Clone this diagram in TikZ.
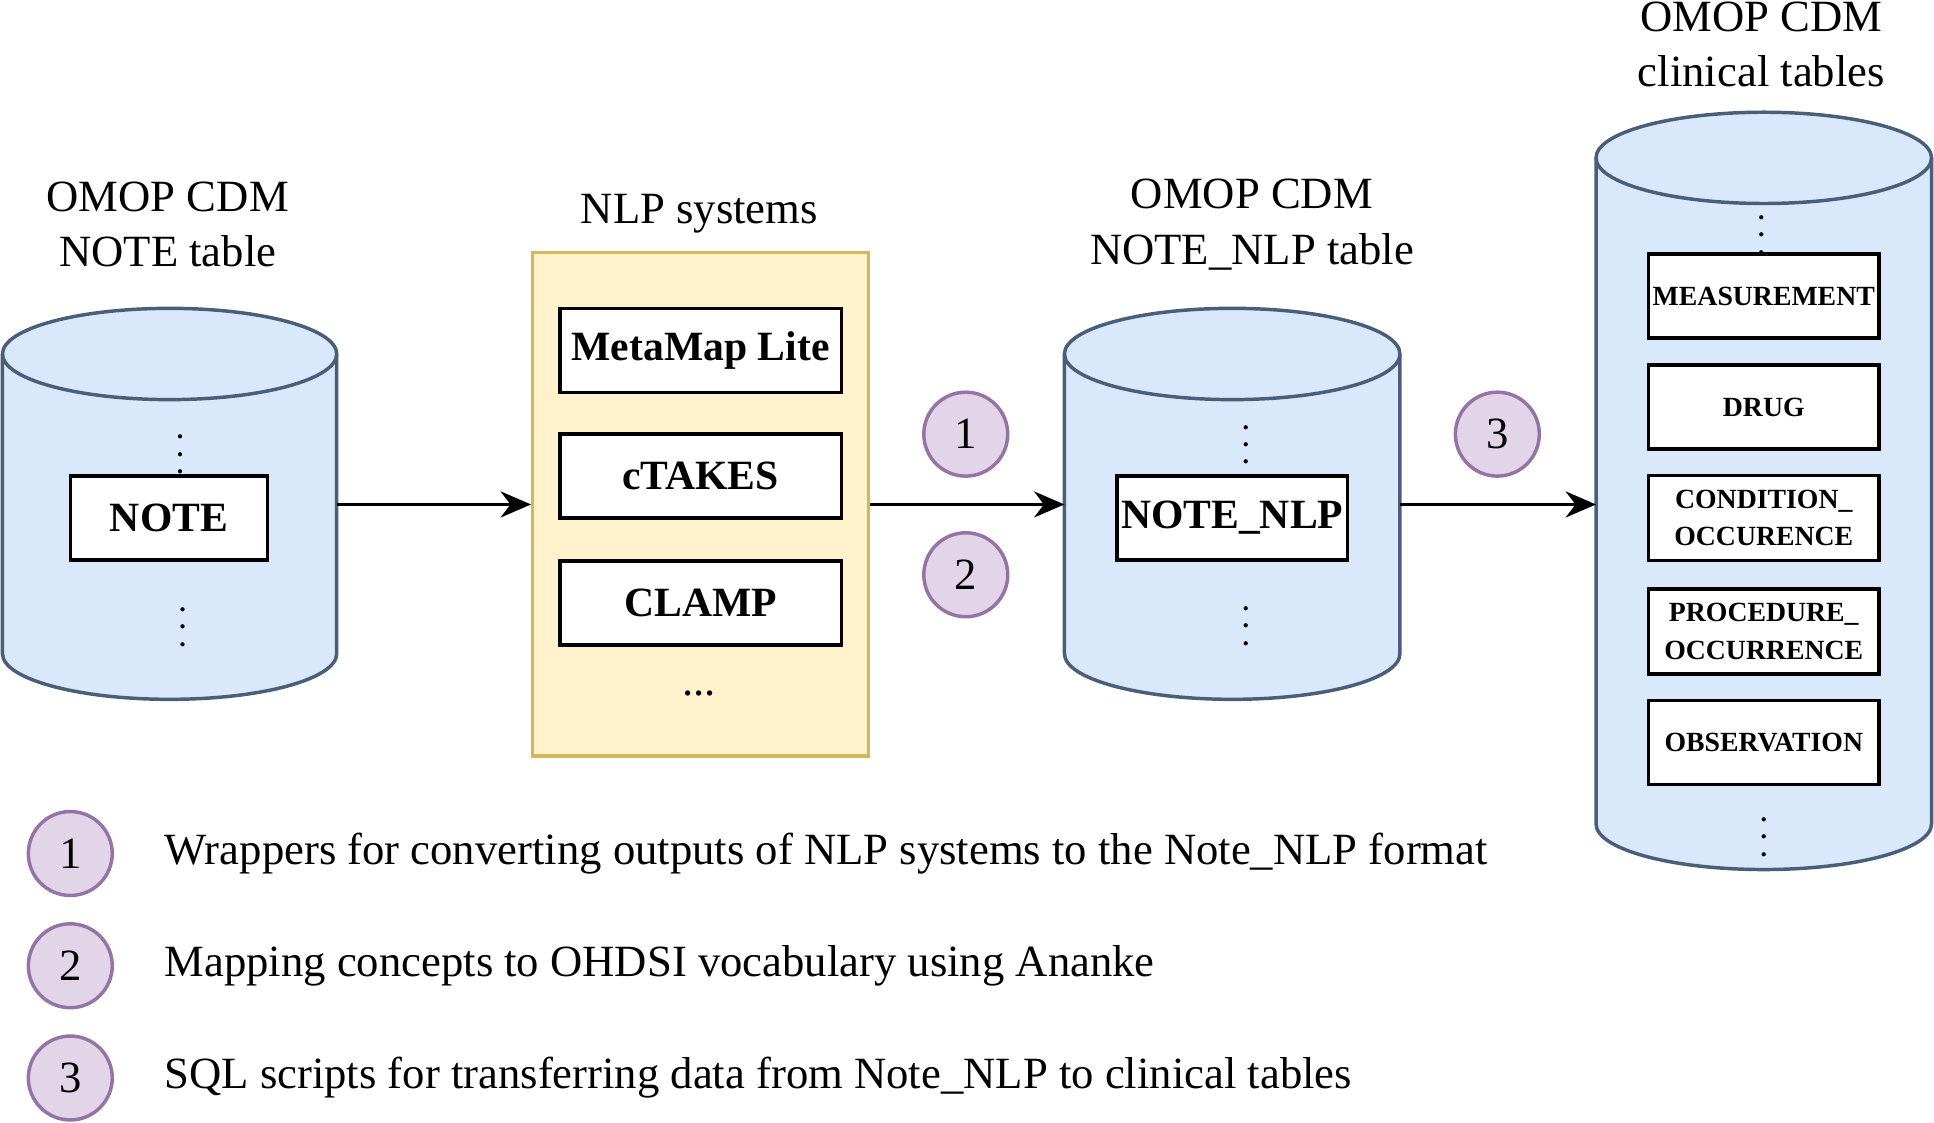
\documentclass[tikz,border=0pt]{standalone}
\usepackage{fontspec}
\setmainfont{Liberation Serif}
\usetikzlibrary{arrows.meta}
\definecolor{cylfill}{HTML}{DAE8FC}
\definecolor{cyldraw}{HTML}{4A5E7A}
\definecolor{nlpfill}{HTML}{FFF2CC}
\definecolor{nlpdraw}{HTML}{D6B656}
\definecolor{numfill}{HTML}{E1D5E7}
\definecolor{numdraw}{HTML}{9673A6}
\tikzset{
   box/.style={draw, thick, fill=white, minimum width=2.28cm, minimum height=0.68cm, inner xsep=1pt, font=\fontsize{9.6}{11}\selectfont\bfseries},
   tbox/.style={draw, thick, fill=white, text width=1.8cm, minimum height=0.68cm, inner xsep=1pt, align=center, font=\fontsize{6.4}{8.6}\selectfont\bfseries},
   num/.style={draw=numdraw, thick, fill=numfill, circle, minimum size=0.68cm, inner sep=0pt, font=\fontsize{10.3}{12}\selectfont},
   lbl/.style={align=center, font=\fontsize{10.3}{12.8}\selectfont},
   dots/.style={inner sep=0pt, font=\fontsize{6}{7}\selectfont\bfseries},
   flow/.style={thick, -{Stealth[length=7pt,width=6pt]}}
}
\newcommand{\cyl}[4]{% left x, right x, top y, bottom y
   \filldraw[fill=cylfill, draw=cyldraw, thick]
      (#1,#3) -- (#1,#4) arc[start angle=180, end angle=0, x radius={(#2-#1)/2}, y radius=37]
      -- (#2,#3) arc[start angle=0, end angle=-180, x radius={(#2-#1)/2}, y radius=37];
   \draw[draw=cyldraw, thick] (#1,#3) arc[start angle=180, end angle=0, x radius={(#2-#1)/2}, y radius=37];
}
\begin{document}
\begin{tikzpicture}[x=0.01cm, y=-0.01cm]
   \useasboundingbox (0,0) rectangle (1568,910);
   % cylinders
   \cyl{2}{273}{287}{530}
   \cyl{863}{1135}{287}{530}
   \cyl{1294}{1566}{128}{668}
   \coordinate (note) at (273,409);
   \coordinate (notenlpw) at (863,409);
   \coordinate (notenlpe) at (1135,409);
   \coordinate (clin) at (1294,409);
   % NLP systems
   \node[draw=nlpdraw, thick, fill=nlpfill, minimum width=2.72cm, minimum height=4.08cm] (nlp) at (568,409) {};
   \node[box] (metamap) at (568,284) {MetaMap Lite};
   \node[box] (ctakes) at (568,386) {cTAKES};
   \node[box] (clamp) at (568,489) {CLAMP};
   \node[lbl] (more) at (567,562) {...};
   % tables
   \node[box, minimum width=1.6cm] (tnote) at (137,420) {NOTE};
   \node[box, minimum width=1.84cm] (tnotenlp) at (999,420) {NOTE\_NLP};
   \node[tbox] (meas) at (1430,240) {MEASUREMENT};
   \node[tbox] (drug) at (1430,330) {DRUG};
   \node[tbox] (cond) at (1430,420) {CONDITION\_\\OCCURENCE};
   \node[tbox] (proc) at (1430,512) {PROCEDURE\_\\OCCURRENCE};
   \node[tbox] (obs) at (1430,602) {OBSERVATION};
   \foreach \n/\x/\y in {d1/146/358, d2/148/498, d3/1010/350, d4/1010/497, d5/1428/180, d6/1430/668} {
      \node[dots] (\n) at (\x,\y) {$\vdots$};
   }
   % labels
   \node[lbl] (lnote) at (136,182) {OMOP CDM\\NOTE table};
   \node[lbl] (lnlp) at (567,173) {NLP systems};
   \node[lbl] (lnotenlp) at (1015,182) {OMOP CDM\\NOTE\_NLP table};
   \node[lbl] (lclin) at (1428,36) {OMOP CDM\\clinical tables};
   % arrows
   \draw[flow] (note) -- (nlp.west);
   \draw[flow] (nlp.east) -- (notenlpw);
   \draw[flow] (notenlpe) -- (clin);
   \node[num] (n1) at (783,352) {1};
   \node[num] (n2) at (783,466) {2};
   \node[num] (n3) at (1214,352) {3};
   % legend
   \foreach \k/\y/\t in {1/692/Wrappers for converting outputs of NLP systems to the Note\_NLP format,
      2/783/Mapping concepts to OHDSI vocabulary using Ananke,
      3/874/SQL scripts for transferring data from Note\_NLP to clinical tables} {
      \node[num] (leg\k) at (57,\y) {\k};
      \node[lbl, anchor=west] (legt\k) at (121,\y) {\t};
   }
\end{tikzpicture}
\end{document}
